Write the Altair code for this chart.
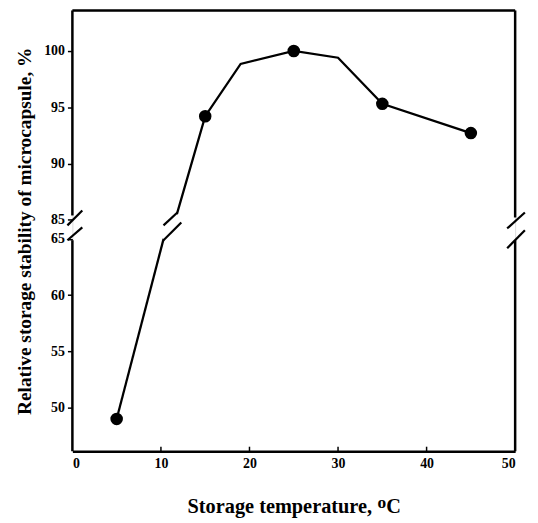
import altair as alt
import pandas as pd

GAP = 18.3  # amount the upper (85-104) segment is shifted down to sit above the break
Y_MIN, Y_MAX = 46.13, 85.3  # mapped axis domain

# measured points (temperature, %)
pt_temp = [5, 15, 25, 35, 45]
pt_stab = [49.0, 94.2, 100.0, 95.3, 92.7]

# line vertices (lower part below the break, upper part above it)
lo_temp = [5, 10.3]
lo_stab = [49.0, 65.0]
up_temp = [11.8, 15, 19, 25, 30, 35, 45]
up_stab = [85.5, 94.2, 98.85, 100.0, 99.4, 95.3, 92.7]

# tick values in real units
y_ticks = [50, 55, 60, 65, 85, 90, 95, 100]
x_ticks = [0, 10, 20, 30, 40, 50]
x_minor = [10, 20, 30, 40]

# break slashes (x in temperature units, y in mapped units)
sl_x0 = [-0.56, -0.56, 49.1, 49.1, 10.29, 10.29]
sl_x1 = [1.12, 1.12, 51.1, 51.1, 11.86, 12.3]
sl_y0 = [66.2, 64.88, 65.93, 64.17, 66.2, 64.88]
sl_y1 = [67.52, 66.02, 67.34, 65.76, 67.34, 66.46]

# frame segments (x, x2, y, y2 in mapped units)
fr_x0 = [0, 0, 50, 50, 0]
fr_x1 = [0, 0, 50, 50, 50]
fr_y0 = [Y_MIN, 67.08, Y_MIN, 66.9, Y_MAX]
fr_y1 = [64.88, Y_MAX, 64.88, Y_MAX, Y_MAX]

def mapv(v):
    return v if v <= 66 else v - GAP

FONT = "Liberation Serif"

pts = pd.DataFrame({"t": pt_temp, "s": pt_stab})
line = pd.DataFrame({
    "t": lo_temp + up_temp,
    "s": lo_stab + up_stab,
    "seg": ["lo"] * len(lo_temp) + ["up"] * len(up_temp),
})
slashes = pd.DataFrame({"x0": sl_x0, "x1": sl_x1, "y0": sl_y0, "y1": sl_y1})
frame = pd.DataFrame({"x0": fr_x0, "x1": fr_x1, "y0": fr_y0, "y1": fr_y1})
xt = pd.DataFrame({"t": x_minor, "y0": [Y_MIN] * len(x_minor), "y1": [Y_MIN + 0.4] * len(x_minor)})

calc = f"datum.s > 75 ? datum.s - {GAP} : datum.s"

xscale = alt.Scale(domain=[0, 50], nice=False)
yscale = alt.Scale(domain=[Y_MIN, Y_MAX], nice=False, zero=False)

xaxis = alt.Axis(values=x_ticks, format="d", title="Storage temperature, ᴼC",
                 labelFont=FONT, labelFontSize=14, labelFontWeight="bold", labelColor="black",
                 titleFont=FONT, titleFontSize=20.5, titleFontWeight="bold", titleColor="black",
                 titlePadding=27, labelPadding=5, ticks=False, grid=False,
                 domainColor="black", domainWidth=2.5)
yaxis = alt.Axis(values=[mapv(v) for v in y_ticks],
                 labelExpr=f"round(datum.value > 66 ? datum.value + {GAP} : datum.value)",
                 title="Relative storage stability of microcapsule, %",
                 labelFont=FONT, labelFontSize=14, labelFontWeight="bold", labelColor="black",
                 titleFont=FONT, titleFontSize=19.5, titleFontWeight="bold", titleColor="black",
                 titlePadding=9, labelPadding=3, tickSize=5, tickColor="black", tickWidth=1.5,
                 domain=False, grid=False)

base_line = alt.Chart(line).transform_calculate(m=calc).mark_line(
    color="black", strokeWidth=2.3
).encode(
    x=alt.X("t:Q", scale=xscale, axis=xaxis),
    y=alt.Y("m:Q", scale=yscale, axis=yaxis),
    detail="seg:N",
)

points = alt.Chart(pts).transform_calculate(m=calc).mark_circle(
    color="black", opacity=1, size=160
).encode(x=alt.X("t:Q", scale=xscale), y=alt.Y("m:Q", scale=yscale))

slash_layer = alt.Chart(slashes).mark_rule(color="black", strokeWidth=2.2).encode(
    x=alt.X("x0:Q", scale=xscale), x2="x1:Q",
    y=alt.Y("y0:Q", scale=yscale), y2="y1:Q",
)

frame_layer = alt.Chart(frame).mark_rule(color="black", strokeWidth=2.5).encode(
    x=alt.X("x0:Q", scale=xscale), x2="x1:Q",
    y=alt.Y("y0:Q", scale=yscale), y2="y1:Q",
)

xtick_layer = alt.Chart(xt).mark_rule(color="black", strokeWidth=1.5).encode(
    x=alt.X("t:Q", scale=xscale),
    y=alt.Y("y0:Q", scale=yscale), y2="y1:Q",
)

chart = alt.layer(frame_layer, xtick_layer, slash_layer, base_line, points).properties(
    width=447, height=445,
    autosize=alt.AutoSizeParams(type="none"),
    padding={"left": 65, "top": 0, "right": 15, "bottom": 70},
).configure_view(stroke=None).configure(background="white")

chart.save("out.html", embed_options={"renderer": "svg", "actions": False})
